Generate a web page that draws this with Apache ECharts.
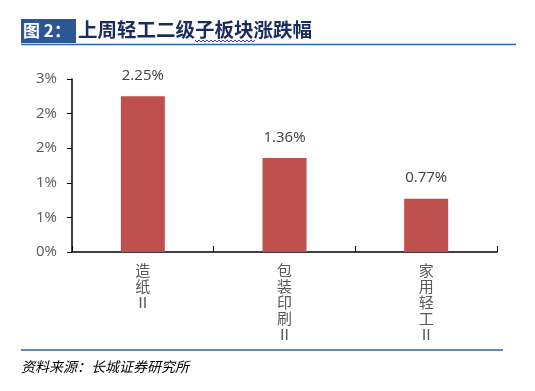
<!DOCTYPE html>
<html>
<head>
<meta charset="utf-8">
<script src="https://cdn.jsdelivr.net/npm/echarts@6/dist/echarts.min.js"></script>
<style>
html,body{margin:0;padding:0;background:#fff;}
#chart{width:535px;height:391px;}
</style>
</head>
<body>
<div id="chart"></div>
<script>
var categories = ['造纸Ⅱ', '包装印刷Ⅱ', '家用轻工Ⅱ'];
var values = [2.25, 1.36, 0.77];
var yTickLabels = ['0%', '1%', '1%', '2%', '2%', '3%'];
var titleBox = '图 2：';
var titleText = '上周轻工二级子板块涨跌幅';
var sourceText = '资料来源：长城证券研究所';

var chart = echarts.init(document.getElementById('chart'), null, {renderer: 'canvas'});
var cjk = '"Noto Sans CJK SC", "Noto Sans", sans-serif';
var latin = '"Open Sans", "Noto Sans", "Noto Sans CJK SC", sans-serif';

// wavy underline points
var wave = [];
for (var x = 195, i = 0; x <= 255; x += 2, i++) {
  wave.push([x, i % 2 === 0 ? 40 : 42]);
}

chart.setOption({
  animation: false,
  backgroundColor: '#ffffff',
  grid: {left: 72, right: 38, top: 79, bottom: 139, containLabel: false},
  xAxis: {
    type: 'category',
    data: categories,
    axisLine: {show: true, lineStyle: {color: '#000000', width: 1.5}},
    axisTick: {show: true, inside: true, length: 6, lineStyle: {color: '#000000'}},
    axisLabel: {
      interval: 0,
      margin: 10,
      color: '#595959',
      fontSize: 15,
      lineHeight: 16,
      fontFamily: cjk,
      verticalAlign: 'top',
      formatter: function (v) { return v.split('').join('\n'); }
    }
  },
  yAxis: {
    type: 'value',
    min: 0,
    max: 2.5,
    interval: 0.5,
    splitLine: {show: false},
    axisLine: {show: true, lineStyle: {color: '#000000', width: 1.5}},
    axisTick: {show: true, length: 5, lineStyle: {color: '#000000'}},
    axisLabel: {
      margin: 15,
      color: '#595959',
      fontSize: 15,
      fontFamily: latin,
      formatter: function (v) { return yTickLabels[Math.round(v / 0.5)]; }
    }
  },
  series: [{
    type: 'bar',
    data: values,
    barWidth: 44,
    itemStyle: {color: '#c0504d'},
    label: {
      show: true,
      position: 'top',
      distance: 13,
      color: '#404040',
      fontSize: 15,
      fontFamily: latin,
      formatter: function (p) { return p.value.toFixed(2) + '%'; }
    }
  }],
  graphic: [
    {type: 'rect', shape: {x: 21, y: 19, width: 55, height: 24}, style: {fill: '#2b5797'}},
    {type: 'text', x: 23, y: 31, style: {text: titleBox, fill: '#ffffff', fontSize: 17, fontWeight: 'bold', fontFamily: cjk, verticalAlign: 'middle'}},
    {type: 'text', x: 78, y: 30, style: {text: titleText, fill: '#1c2b5e', fontSize: 19.5, fontWeight: 'bold', fontFamily: cjk, verticalAlign: 'middle'}},
    {type: 'polyline', shape: {points: wave}, style: {stroke: '#3a3adb', lineWidth: 1, fill: null}},
    {type: 'line', shape: {x1: 21, y1: 44.5, x2: 516, y2: 44.5}, style: {stroke: '#2e64a8', lineWidth: 1.5}},
    {type: 'line', shape: {x1: 21, y1: 350, x2: 503, y2: 350}, style: {stroke: '#2e64a8', lineWidth: 1.5}},
    {type: 'text', x: 21, y: 367, style: {text: sourceText, fill: '#000000', fontSize: 14, fontStyle: 'italic', fontFamily: cjk, verticalAlign: 'middle'}}
  ]
});
</script>
</body>
</html>
